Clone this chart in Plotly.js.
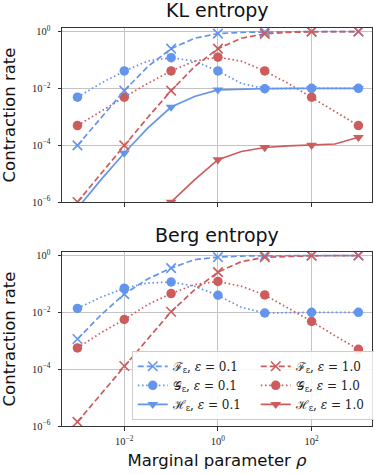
<!DOCTYPE html>
<html><head><meta charset="utf-8">
<script src="https://cdn.plot.ly/plotly-3.0.1.min.js"></script>
<style>html,body{margin:0;padding:0;background:#fff}#chart{width:374px;height:474px}</style>
</head><body><div id="chart"></div>
<script>
// Marginal parameter rho (half-decade samples; markers at whole decades)
const rho = [0.001, 0.00316, 0.01, 0.0316, 0.1, 0.316, 1, 3.16, 10, 31.6, 100, 316, 1000];

// KL entropy
const klF01 = [9.8e-5, 9.4e-4, 8.3e-3, 0.058, 0.25, 0.58, 0.85, 0.94, 0.97, 0.99, 1.0, 1.0, 1.0];
const klF1  = [1.0e-6, 1.0e-5, 9.8e-5, 9.4e-4, 8.3e-3, 0.058, 0.25, 0.58, 0.83, 0.94, 0.98, 0.99, 1.0];
const klG01 = [0.0049, 0.015, 0.041, 0.091, 0.12, 0.091, 0.041, 0.015, 0.0097, 0.01, 0.01, 0.01, 0.01];
const klG1  = [4.9e-4, 1.6e-3, 4.9e-3, 0.015, 0.041, 0.091, 0.125, 0.091, 0.041, 0.015, 4.9e-3, 1.6e-3, 4.9e-4];
const klH01 = [6e-7, 6e-6, 5.3e-5, 4e-4, 2.2e-3, 5.2e-3, 8.9e-3, 9.5e-3, 9.8e-3, 0.01, 0.01, 0.01, 0.01];
const klH1  = [1e-10, 1e-9, 1e-8, 1e-7, 1e-6, 6e-6, 3.1e-5, 6e-5, 8.3e-5, 9.5e-5, 1.0e-4, 1.1e-4, 1.9e-4];

// Berg entropy
const bgF01 = [1.15e-3, 8e-3, 0.044, 0.15, 0.36, 0.72, 0.88, 0.96, 0.98, 0.99, 1.0, 1.0, 1.0];
const bgF1  = [1.4e-6, 1.35e-5, 1.3e-4, 1.15e-3, 0.0105, 0.062, 0.26, 0.61, 0.87, 0.95, 0.98, 0.99, 1.0];
const bgG01 = [0.0138, 0.034, 0.071, 0.108, 0.117, 0.083, 0.040, 0.015, 0.0095, 0.01, 0.01, 0.01, 0.01];
const bgG1  = [5.6e-4, 1.9e-3, 5.6e-3, 0.0186, 0.046, 0.095, 0.123, 0.083, 0.041, 0.014, 4.8e-3, 1.5e-3, 5.0e-4];

const seriesNames = {
  F01: 'ℱ<sub>ε</sub>, <i>ε</i> = 0.1', F1: 'ℱ<sub>ε</sub>, <i>ε</i> = 1.0',
  G01: '𝒢<sub>ε</sub>, <i>ε</i> = 0.1', G1: '𝒢<sub>ε</sub>, <i>ε</i> = 1.0',
  H01: 'ℋ<sub>ε</sub>, <i>ε</i> = 0.1', H1: 'ℋ<sub>ε</sub>, <i>ε</i> = 1.0'
};

const yTickVals = [1e-6, 1e-4, 1e-2, 1];
const yTickText = ['10<sup>−6</sup>', '10<sup>−4</sup>', '10<sup>−2</sup>', '10<sup>0</sup>'];
const xTickVals = [1e-2, 1, 1e2];
const xTickText = ['10<sup>−2</sup>', '10<sup>0</sup>', '10<sup>2</sup>'];

const BLUE = '#6495ED', RED = '#CD5C5C';
const LW = 1.7;
const markOp = rho.map((_, i) => (i % 2 === 0 ? 1 : 0));
const styles = {
  F: {dash: '6px,3px', symbol: 'x-thin'},
  G: {dash: '1.6px,2.6px', symbol: 'circle'},
  H: {dash: 'solid', symbol: 'triangle-down'}
};

function mk(kind, color, y, xa, ya, op) {
  const st = styles[kind];
  return {
    x: rho, y: y, xaxis: xa, yaxis: ya, mode: 'lines+markers', showlegend: false,
    line: {color: color, width: LW, dash: st.dash},
    marker: {symbol: st.symbol, size: 9.5, color: color, opacity: op,
             line: {color: color, width: kind === 'F' ? 1.6 : 0}},
    hoverinfo: 'skip'
  };
}
function leg(kind, color, name) {
  const st = styles[kind];
  return {
    x: [null], y: [null], xaxis: 'x2', yaxis: 'y2', mode: 'lines+markers', name: name,
    showlegend: true,
    line: {color: color, width: LW, dash: st.dash},
    marker: {symbol: st.symbol, size: 9.5, color: color,
             line: {color: color, width: kind === 'F' ? 1.6 : 0}}
  };
}

const traces = [
  mk('G', BLUE, klG01, 'x', 'y', markOp), mk('G', RED, klG1, 'x', 'y', markOp),
  mk('H', BLUE, klH01, 'x', 'y', markOp), mk('H', RED, klH1, 'x', 'y', markOp),
  mk('F', BLUE, klF01, 'x', 'y', markOp), mk('F', RED, klF1, 'x', 'y', markOp),
  mk('G', BLUE, bgG01, 'x2', 'y2', markOp), mk('G', RED, bgG1, 'x2', 'y2', markOp),
  mk('F', BLUE, bgF01, 'x2', 'y2', markOp), mk('F', RED, bgF1, 'x2', 'y2', markOp),
  leg('F', BLUE, seriesNames.F01), leg('F', RED, seriesNames.F1),
  leg('G', BLUE, seriesNames.G01), leg('G', RED, seriesNames.G1),
  leg('H', BLUE, seriesNames.H01), leg('H', RED, seriesNames.H1)
];

const tickFont = {family: 'Liberation Serif, DejaVu Serif, serif', size: 10.5, color: '#222'};
const labFont = {family: 'DejaVu Sans, sans-serif', size: 16.5, color: '#111'};
function xax(showLabels, title) {
  return {
    type: 'log', range: [-3.33, 3.29], domain: [0, 1],
    tickmode: 'array', tickvals: xTickVals, ticktext: xTickText, showticklabels: showLabels,
    ticks: 'outside', ticklen: 3.5, tickwidth: 1, tickcolor: '#333', ticklabelstandoff: 2,
    showline: true, linecolor: '#333', linewidth: 1, mirror: true,
    showgrid: true, gridcolor: '#c4c4c4', gridwidth: 1, zeroline: false,
    tickfont: tickFont, title: title ? {text: title, font: labFont, standoff: 8} : {text: ''}
  };
}
function yax(domain) {
  return {
    type: 'log', range: [-6, 0.125], domain: domain,
    tickmode: 'array', tickvals: yTickVals, ticktext: yTickText,
    ticks: 'outside', ticklen: 3.5, tickwidth: 1, tickcolor: '#333', ticklabelstandoff: 5,
    showline: true, linecolor: '#333', linewidth: 1, mirror: true,
    showgrid: true, gridcolor: '#c4c4c4', gridwidth: 1, zeroline: false,
    tickfont: tickFont, title: {text: 'Contraction rate', font: labFont, standoff: 13}
  };
}

const layout = {
  width: 374, height: 474,
  margin: {l: 62, r: 2, t: 28, b: 48, autoexpand: false},
  paper_bgcolor: '#fff', plot_bgcolor: '#fff',
  xaxis: Object.assign(xax(false, null), {anchor: 'y'}),
  yaxis: Object.assign(yax([0.5628, 1]), {anchor: 'x'}),
  xaxis2: Object.assign(xax(true, 'Marginal parameter <i>ρ</i>'), {anchor: 'y2'}),
  yaxis2: Object.assign(yax([0, 0.4372]), {anchor: 'x2'}),
  showlegend: true,
  legend: {
    orientation: 'h', x: 0.225, xanchor: 'left', y: 0.189, yanchor: 'top',
    entrywidth: 78, traceorder: 'normal', itemwidth: 30,
    bgcolor: 'rgba(255,255,255,0.85)', bordercolor: '#cccccc', borderwidth: 1,
    font: {family: 'DejaVu Serif, serif', size: 12, color: '#222'}
  },
  annotations: [
    {text: 'KL entropy', xref: 'paper', yref: 'paper', x: 0.5, y: 1.044, xanchor: 'center', yanchor: 'middle',
     showarrow: false, font: {family: 'DejaVu Sans, sans-serif', size: 19, color: '#111'}},
    {text: 'Berg entropy', xref: 'paper', yref: 'paper', x: 0.5, y: 0.481, xanchor: 'center', yanchor: 'middle',
     showarrow: false, font: {family: 'DejaVu Sans, sans-serif', size: 19, color: '#111'}}
  ]
};

Plotly.newPlot('chart', traces, layout, {staticPlot: true, displayModeBar: false});
</script></body></html>
